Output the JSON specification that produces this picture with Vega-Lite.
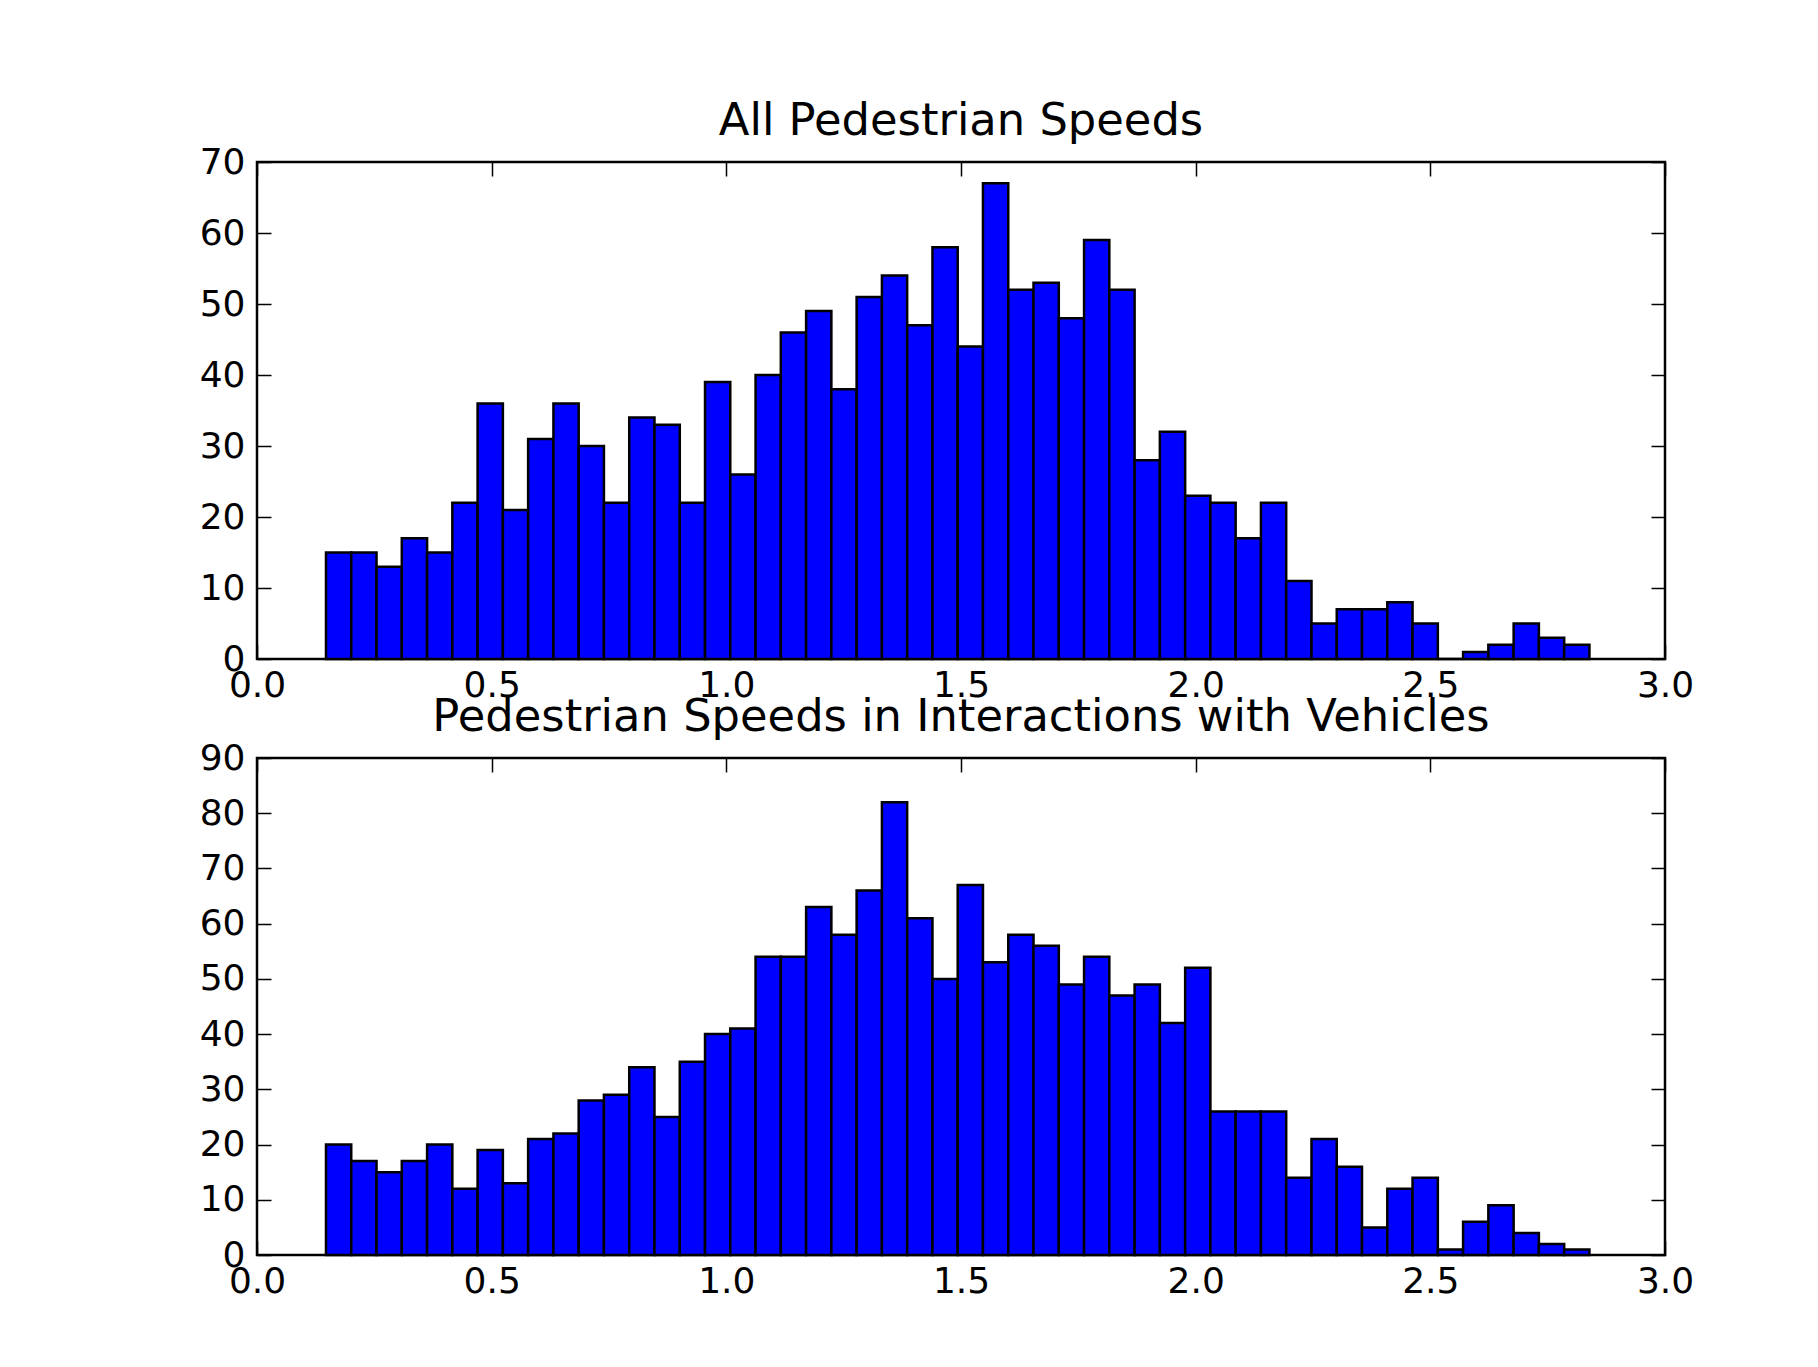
{
  "$schema": "https://vega.github.io/schema/vega-lite/v6.json",
  "background": "white",
  "autosize": {"type": "pad"},
  "padding": {"left": 197, "top": 97, "right": 0, "bottom": 0},
  "datasets": {
    "all": [
      {"lo": 0.1470, "hi": 0.2008, "count": 15},
      {"lo": 0.2008, "hi": 0.2547, "count": 15},
      {"lo": 0.2547, "hi": 0.3085, "count": 13},
      {"lo": 0.3085, "hi": 0.3624, "count": 17},
      {"lo": 0.3624, "hi": 0.4162, "count": 15},
      {"lo": 0.4162, "hi": 0.4700, "count": 22},
      {"lo": 0.4700, "hi": 0.5239, "count": 36},
      {"lo": 0.5239, "hi": 0.5777, "count": 21},
      {"lo": 0.5777, "hi": 0.6316, "count": 31},
      {"lo": 0.6316, "hi": 0.6854, "count": 36},
      {"lo": 0.6854, "hi": 0.7392, "count": 30},
      {"lo": 0.7392, "hi": 0.7931, "count": 22},
      {"lo": 0.7931, "hi": 0.8469, "count": 34},
      {"lo": 0.8469, "hi": 0.9008, "count": 33},
      {"lo": 0.9008, "hi": 0.9546, "count": 22},
      {"lo": 0.9546, "hi": 1.0084, "count": 39},
      {"lo": 1.0084, "hi": 1.0623, "count": 26},
      {"lo": 1.0623, "hi": 1.1161, "count": 40},
      {"lo": 1.1161, "hi": 1.1700, "count": 46},
      {"lo": 1.1700, "hi": 1.2238, "count": 49},
      {"lo": 1.2238, "hi": 1.2776, "count": 38},
      {"lo": 1.2776, "hi": 1.3315, "count": 51},
      {"lo": 1.3315, "hi": 1.3853, "count": 54},
      {"lo": 1.3853, "hi": 1.4392, "count": 47},
      {"lo": 1.4392, "hi": 1.4930, "count": 58},
      {"lo": 1.4930, "hi": 1.5468, "count": 44},
      {"lo": 1.5468, "hi": 1.6007, "count": 67},
      {"lo": 1.6007, "hi": 1.6545, "count": 52},
      {"lo": 1.6545, "hi": 1.7084, "count": 53},
      {"lo": 1.7084, "hi": 1.7622, "count": 48},
      {"lo": 1.7622, "hi": 1.8160, "count": 59},
      {"lo": 1.8160, "hi": 1.8699, "count": 52},
      {"lo": 1.8699, "hi": 1.9237, "count": 28},
      {"lo": 1.9237, "hi": 1.9776, "count": 32},
      {"lo": 1.9776, "hi": 2.0314, "count": 23},
      {"lo": 2.0314, "hi": 2.0852, "count": 22},
      {"lo": 2.0852, "hi": 2.1391, "count": 17},
      {"lo": 2.1391, "hi": 2.1929, "count": 22},
      {"lo": 2.1929, "hi": 2.2468, "count": 11},
      {"lo": 2.2468, "hi": 2.3006, "count": 5},
      {"lo": 2.3006, "hi": 2.3544, "count": 7},
      {"lo": 2.3544, "hi": 2.4083, "count": 7},
      {"lo": 2.4083, "hi": 2.4621, "count": 8},
      {"lo": 2.4621, "hi": 2.5160, "count": 5},
      {"lo": 2.5160, "hi": 2.5698, "count": 0},
      {"lo": 2.5698, "hi": 2.6236, "count": 1},
      {"lo": 2.6236, "hi": 2.6775, "count": 2},
      {"lo": 2.6775, "hi": 2.7313, "count": 5},
      {"lo": 2.7313, "hi": 2.7852, "count": 3},
      {"lo": 2.7852, "hi": 2.8390, "count": 2}
    ],
    "veh": [
      {"lo": 0.1470, "hi": 0.2008, "count": 20},
      {"lo": 0.2008, "hi": 0.2547, "count": 17},
      {"lo": 0.2547, "hi": 0.3085, "count": 15},
      {"lo": 0.3085, "hi": 0.3624, "count": 17},
      {"lo": 0.3624, "hi": 0.4162, "count": 20},
      {"lo": 0.4162, "hi": 0.4700, "count": 12},
      {"lo": 0.4700, "hi": 0.5239, "count": 19},
      {"lo": 0.5239, "hi": 0.5777, "count": 13},
      {"lo": 0.5777, "hi": 0.6316, "count": 21},
      {"lo": 0.6316, "hi": 0.6854, "count": 22},
      {"lo": 0.6854, "hi": 0.7392, "count": 28},
      {"lo": 0.7392, "hi": 0.7931, "count": 29},
      {"lo": 0.7931, "hi": 0.8469, "count": 34},
      {"lo": 0.8469, "hi": 0.9008, "count": 25},
      {"lo": 0.9008, "hi": 0.9546, "count": 35},
      {"lo": 0.9546, "hi": 1.0084, "count": 40},
      {"lo": 1.0084, "hi": 1.0623, "count": 41},
      {"lo": 1.0623, "hi": 1.1161, "count": 54},
      {"lo": 1.1161, "hi": 1.1700, "count": 54},
      {"lo": 1.1700, "hi": 1.2238, "count": 63},
      {"lo": 1.2238, "hi": 1.2776, "count": 58},
      {"lo": 1.2776, "hi": 1.3315, "count": 66},
      {"lo": 1.3315, "hi": 1.3853, "count": 82},
      {"lo": 1.3853, "hi": 1.4392, "count": 61},
      {"lo": 1.4392, "hi": 1.4930, "count": 50},
      {"lo": 1.4930, "hi": 1.5468, "count": 67},
      {"lo": 1.5468, "hi": 1.6007, "count": 53},
      {"lo": 1.6007, "hi": 1.6545, "count": 58},
      {"lo": 1.6545, "hi": 1.7084, "count": 56},
      {"lo": 1.7084, "hi": 1.7622, "count": 49},
      {"lo": 1.7622, "hi": 1.8160, "count": 54},
      {"lo": 1.8160, "hi": 1.8699, "count": 47},
      {"lo": 1.8699, "hi": 1.9237, "count": 49},
      {"lo": 1.9237, "hi": 1.9776, "count": 42},
      {"lo": 1.9776, "hi": 2.0314, "count": 52},
      {"lo": 2.0314, "hi": 2.0852, "count": 26},
      {"lo": 2.0852, "hi": 2.1391, "count": 26},
      {"lo": 2.1391, "hi": 2.1929, "count": 26},
      {"lo": 2.1929, "hi": 2.2468, "count": 14},
      {"lo": 2.2468, "hi": 2.3006, "count": 21},
      {"lo": 2.3006, "hi": 2.3544, "count": 16},
      {"lo": 2.3544, "hi": 2.4083, "count": 5},
      {"lo": 2.4083, "hi": 2.4621, "count": 12},
      {"lo": 2.4621, "hi": 2.5160, "count": 14},
      {"lo": 2.5160, "hi": 2.5698, "count": 1},
      {"lo": 2.5698, "hi": 2.6236, "count": 6},
      {"lo": 2.6236, "hi": 2.6775, "count": 9},
      {"lo": 2.6775, "hi": 2.7313, "count": 4},
      {"lo": 2.7313, "hi": 2.7852, "count": 2},
      {"lo": 2.7852, "hi": 2.8390, "count": 1}
    ]
  },
  "bounds": "flush",
  "spacing": 99,
  "vconcat": [
    {
      "width": 1408,
      "height": 497,
      "title": {"text": "All Pedestrian Speeds"},
      "data": {"name": "all"},
      "layer": [
        {
          "mark": {"type": "rect", "fill": "#0000ff", "stroke": "black", "strokeWidth": 2.5},
          "encoding": {
            "x": {"field": "lo", "type": "quantitative", "scale": {"domain": [0, 3], "nice": false, "zero": false},
                  "axis": {"orient": "bottom", "values": [0, 0.5, 1, 1.5, 2, 2.5, 3], "format": ".1f"}},
            "x2": {"field": "hi"},
            "y": {"field": "count", "type": "quantitative", "scale": {"domain": [0, 70], "nice": false},
                  "axis": {"orient": "left", "values": [0, 10, 20, 30, 40, 50, 60, 70], "format": "d"}},
            "y2": {"datum": 0}
          }
        },
        {
          "mark": {"type": "rect", "opacity": 0},
          "encoding": {
            "x": {"field": "lo", "type": "quantitative",
                  "axis": {"orient": "top", "values": [0, 0.5, 1, 1.5, 2, 2.5, 3], "labels": false}},
            "x2": {"field": "hi"},
            "y": {"field": "count", "type": "quantitative",
                  "axis": {"orient": "right", "values": [0, 10, 20, 30, 40, 50, 60, 70], "labels": false}},
            "y2": {"datum": 0}
          }
        }
      ],
      "resolve": {"axis": {"x": "independent", "y": "independent"}}
    },
    {
      "width": 1408,
      "height": 497,
      "title": {"text": "Pedestrian Speeds in Interactions with Vehicles"},
      "data": {"name": "veh"},
      "layer": [
        {
          "mark": {"type": "rect", "fill": "#0000ff", "stroke": "black", "strokeWidth": 2.5},
          "encoding": {
            "x": {"field": "lo", "type": "quantitative", "scale": {"domain": [0, 3], "nice": false, "zero": false},
                  "axis": {"orient": "bottom", "values": [0, 0.5, 1, 1.5, 2, 2.5, 3], "format": ".1f"}},
            "x2": {"field": "hi"},
            "y": {"field": "count", "type": "quantitative", "scale": {"domain": [0, 90], "nice": false},
                  "axis": {"orient": "left", "values": [0, 10, 20, 30, 40, 50, 60, 70, 80, 90], "format": "d"}},
            "y2": {"datum": 0}
          }
        },
        {
          "mark": {"type": "rect", "opacity": 0},
          "encoding": {
            "x": {"field": "lo", "type": "quantitative",
                  "axis": {"orient": "top", "values": [0, 0.5, 1, 1.5, 2, 2.5, 3], "labels": false}},
            "x2": {"field": "hi"},
            "y": {"field": "count", "type": "quantitative",
                  "axis": {"orient": "right", "values": [0, 10, 20, 30, 40, 50, 60, 70, 80, 90], "labels": false}},
            "y2": {"datum": 0}
          }
        }
      ],
      "resolve": {"axis": {"x": "independent", "y": "independent"}}
    }
  ],
  "config": {
    "font": "DejaVu Sans",
    "view": {"stroke": "black", "strokeWidth": 2.5, "fill": "white"},
    "axis": {
      "domain": false,
      "grid": false,
      "title": null,
      "tickSize": -14,
      "tickColor": "black",
      "tickWidth": 1.5,
      "labelFont": "DejaVu Sans",
      "labelFontSize": 36,
      "labelColor": "black",
      "labelPadding": 26,
      "labelFlush": false,
      "labelOverlap": false,
      "labelBound": false
    },
    "axisX": {"labelPadding": 23},
    "title": {
      "font": "DejaVu Sans",
      "fontSize": 44.8,
      "fontWeight": "normal",
      "color": "black",
      "anchor": "middle",
      "offset": -1
    }
  }
}
